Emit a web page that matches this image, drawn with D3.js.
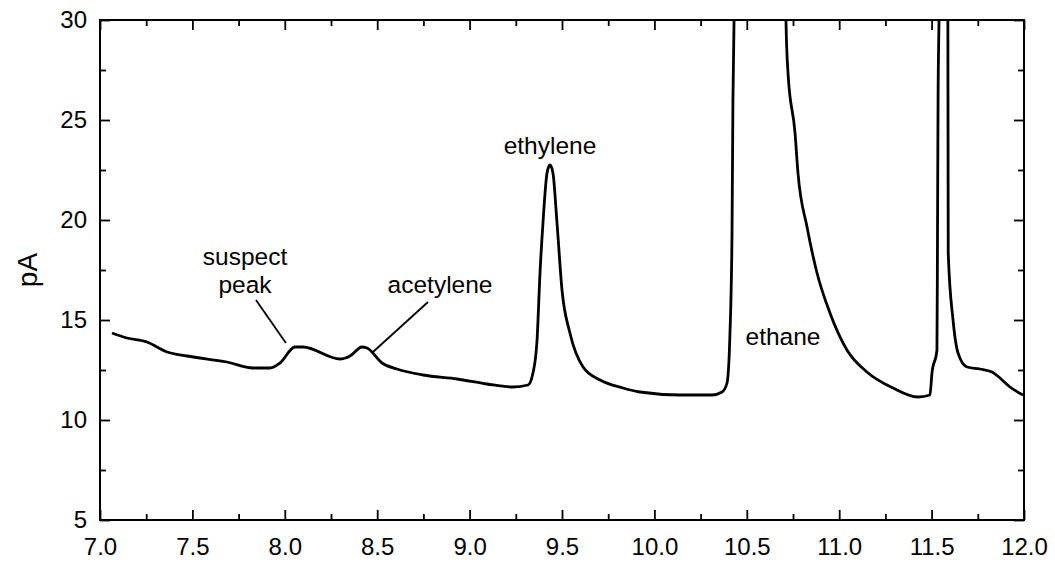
<!DOCTYPE html>
<html>
<head>
<meta charset="utf-8">
<script src="https://cdn.jsdelivr.net/npm/d3@7"></script>
<style>
  body { margin: 0; background: #fff; }
  svg text { font-family: "Liberation Sans", Arial, sans-serif; fill: #000; }
</style>
</head>
<body>
<svg id="chart" width="1055" height="563"></svg>
<script>
// retention time (min) and detector signal (pA)
var times = [7.065, 7.146, 7.254, 7.363, 7.471, 7.687, 7.828, 7.920, 7.974, 8.055,
  8.098, 8.299, 8.353, 8.418, 8.445, 8.526, 8.607, 8.748, 8.932, 9.094,
  9.235, 9.316, 9.343, 9.365, 9.381, 9.397, 9.419, 9.435, 9.451, 9.473,
  9.500, 9.543, 9.614, 9.706, 9.830, 9.922, 10.139, 10.312, 10.366, 10.393,
  10.409, 10.420, 10.425, 10.431, 10.44, 10.55, 10.70, 10.712, 10.723, 10.761,
  10.777, 10.826, 10.880, 10.950, 11.042, 11.150, 11.291, 11.426, 11.491, 11.502,
  11.529, 11.532, 11.535, 11.540, 11.56, 11.588, 11.590, 11.616, 11.643, 11.692,
  11.762, 11.827, 11.870, 11.924, 11.995];
var signal = [14.35, 14.10, 13.90, 13.40, 13.20, 12.90, 12.60, 12.60, 12.85, 13.65,
  13.65, 13.05, 13.20, 13.65, 13.60, 12.85, 12.55, 12.25, 12.05, 11.80,
  11.65, 11.75, 12.35, 14.0, 17.35, 19.85, 22.35, 22.75, 22.35, 19.85,
  16.5, 14.35, 12.65, 12.0, 11.6, 11.4, 11.25, 11.25, 11.4, 11.85,
  14.35, 19.35, 26.0, 30.0, 45, 80, 45, 30.0, 27.35, 24.35,
  22.35, 19.65, 17.35, 15.35, 13.5, 12.4, 11.6, 11.15, 11.25, 12.35,
  13.5, 19.35, 26.0, 30.0, 60, 30.0, 18.35, 15.0, 13.35, 12.65,
  12.55, 12.4, 12.1, 11.65, 11.25];

var xMajor = [7.0, 7.5, 8.0, 8.5, 9.0, 9.5, 10.0, 10.5, 11.0, 11.5, 12.0];
var xMinor = [7.25, 7.75, 8.25, 8.75, 9.25, 9.75, 10.25, 10.75, 11.25, 11.75];
var yMajor = [5, 10, 15, 20, 25, 30];
var yMinor = [7.5, 12.5, 17.5, 22.5, 27.5];

var peakNames = ["suspect", "peak", "acetylene", "ethylene", "ethane"];
var peakLabelT = [7.785, 7.785, 8.84, 9.435, 10.696];
var peakLabelV = [17.75, 16.35, 16.35, 23.3, 13.75];

var margin = {top: 20, right: 31, bottom: 43, left: 100},
  width = 1055 - margin.left - margin.right,
  height = 563 - margin.top - margin.bottom;

var svg = d3.select("#chart")
  .append("g")
  .attr("transform", "translate(" + margin.left + "," + margin.top + ")");

var x = d3.scaleLinear().domain([7, 12]).range([0, width]);
var y = d3.scaleLinear().domain([5, 30]).range([height, 0]);

svg.append("clipPath").attr("id", "plotclip")
  .append("rect").attr("width", width).attr("height", height);

// axes, ticks pointing inward on all four sides
function styleAxis(g) {
  g.select(".domain").remove();
  g.selectAll("line").attr("stroke", "#000").attr("stroke-width", 1.8);
  g.selectAll("text").style("font-size", "24px");
}

svg.append("g")
  .attr("transform", "translate(0," + height + ")")
  .call(d3.axisBottom(x).tickValues(xMajor).tickSize(-10).tickPadding(18)
    .tickFormat(d3.format(".1f")))
  .call(styleAxis);
svg.append("g")
  .attr("transform", "translate(0," + height + ")")
  .call(d3.axisBottom(x).tickValues(xMinor).tickSize(-6).tickFormat(""))
  .call(styleAxis);
svg.append("g")
  .call(d3.axisTop(x).tickValues(xMajor).tickSize(-10).tickFormat(""))
  .call(styleAxis);
svg.append("g")
  .call(d3.axisTop(x).tickValues(xMinor).tickSize(-6).tickFormat(""))
  .call(styleAxis);

svg.append("g")
  .call(d3.axisLeft(y).tickValues(yMajor).tickSize(-10).tickPadding(13))
  .call(styleAxis);
svg.append("g")
  .call(d3.axisLeft(y).tickValues(yMinor).tickSize(-6).tickFormat(""))
  .call(styleAxis);
svg.append("g")
  .attr("transform", "translate(" + width + ",0)")
  .call(d3.axisRight(y).tickValues(yMajor).tickSize(-10).tickFormat(""))
  .call(styleAxis);
svg.append("g")
  .attr("transform", "translate(" + width + ",0)")
  .call(d3.axisRight(y).tickValues(yMinor).tickSize(-6).tickFormat(""))
  .call(styleAxis);

// frame
svg.append("rect")
  .attr("width", width)
  .attr("height", height)
  .attr("fill", "none")
  .attr("stroke", "#000")
  .attr("stroke-width", 2);

// y-label
svg.append("text")
  .attr("transform", "rotate(-90)")
  .attr("x", -y(17.5))
  .attr("y", -63)
  .style("text-anchor", "middle")
  .style("font-size", "28px")
  .text("pA");

// chromatogram trace
var pts = times.map(function(t, i) { return [t, signal[i]]; });
var line = d3.line()
  .x(function(d) { return x(d[0]); })
  .y(function(d) { return y(d[1]); })
  .curve(d3.curveMonotoneX);

svg.append("path")
  .datum(pts)
  .attr("clip-path", "url(#plotclip)")
  .attr("fill", "none")
  .attr("stroke", "#000")
  .attr("stroke-width", 2.8)
  .attr("stroke-linejoin", "round")
  .attr("d", line);

// peak labels
svg.selectAll(".peaklabel")
  .data(peakNames)
  .enter()
  .append("text")
  .attr("class", "peaklabel")
  .attr("x", function(d, i) { return x(peakLabelT[i]); })
  .attr("y", function(d, i) { return y(peakLabelV[i]); })
  .style("text-anchor", "middle")
  .style("font-size", "24.5px")
  .text(function(d) { return d; });

// leader lines from labels to the small peaks
var leaders = [[7.844, 16.0, 8.006, 13.85], [8.775, 15.9, 8.477, 13.4]];
svg.selectAll(".leader")
  .data(leaders)
  .enter()
  .append("line")
  .attr("class", "leader")
  .attr("x1", function(d) { return x(d[0]); })
  .attr("y1", function(d) { return y(d[1]); })
  .attr("x2", function(d) { return x(d[2]); })
  .attr("y2", function(d) { return y(d[3]); })
  .attr("stroke", "#000")
  .attr("stroke-width", 1.8);
</script>
</body>
</html>
